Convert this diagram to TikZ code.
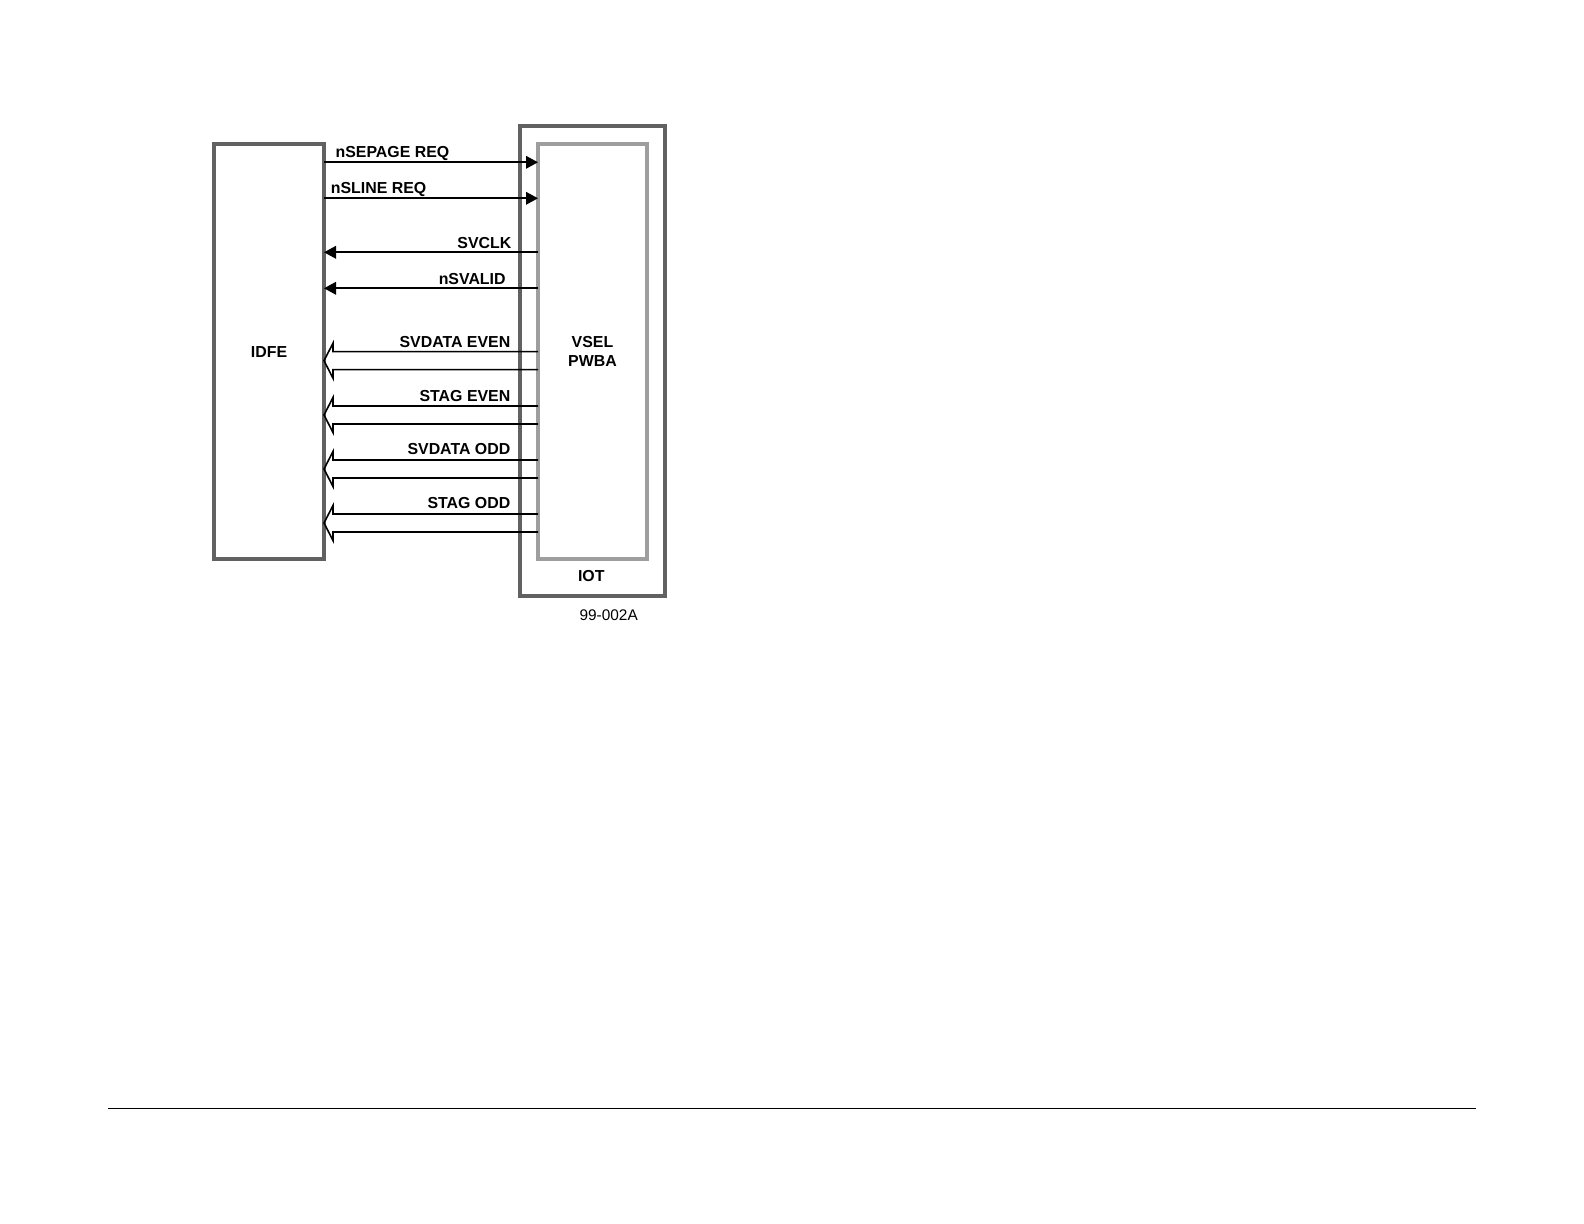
\documentclass[tikz,border=0pt]{standalone}
\usepackage{fontspec}
\setmainfont{Liberation Sans}
\usetikzlibrary{arrows.meta,calc}
\begin{document}
\begin{tikzpicture}[x=0.5pt,y=-0.5pt,
  darkbox/.style={draw=black!62,line width=2pt,outer sep=0pt,inner sep=0pt},
  lightbox/.style={draw=black!38,line width=1.8pt,outer sep=0pt,inner sep=0pt},
  sig/.style={font=\bfseries\fontsize{7.95}{9}\selectfont,inner sep=0pt},
  thinarrow/.style={draw=black,line width=0.8pt,-{Triangle[length=6pt,width=6.3pt]}},
  widearrow/.style={draw=black,line width=0.8pt,line join=miter}]
\useasboundingbox (0,0) rectangle (1584,1224);
% boxes
\node[darkbox,minimum width=72.5pt,minimum height=234.8pt] (iot) at (592.5,360.9) {};
\node[lightbox,minimum width=54.5pt,minimum height=207.5pt,align=center,font=\bfseries\fontsize{7.95}{9.15}\selectfont] (vsel) at (592.5,351.5) {VSEL\\PWBA};
\node[darkbox,minimum width=55pt,minimum height=207.6pt,font=\bfseries\fontsize{7.95}{9}\selectfont] (idfe) at (269,351.6) {IDFE};
\node[sig,anchor=base] (iotlbl) at (591.3,581.7) {IOT};
\node[font=\fontsize{7.7}{9}\selectfont,inner sep=0pt] (fig) at (608.7,615.5) {99-002A};
% signal rows
\coordinate (r1) at (0,162.3);
\coordinate (r2) at (0,198.3);
\coordinate (r3) at (0,252.3);
\coordinate (r4) at (0,288.3);
% thin arrows
\draw[thinarrow] (idfe.east |- r1) -- (vsel.west |- r1);
\draw[thinarrow] (idfe.east |- r2) -- (vsel.west |- r2);
\draw[thinarrow] (vsel.west |- r3) -- (idfe.east |- r3);
\draw[thinarrow] (vsel.west |- r4) -- (idfe.east |- r4);
\node[sig,anchor=base west] (l1) at (335.2,157.3) {nSEPAGE REQ};
\node[sig,anchor=base west] (l2) at (330.5,194) {nSLINE REQ};
\node[sig,anchor=base east] (l3) at (511.7,248.3) {SVCLK};
\node[sig,anchor=base east] (l4) at (506,285) {nSVALID};
% wide (bus) arrows
\foreach \t/\b/\c/\lab/\base [count=\i] in {351.7/369.7/360.7/SVDATA EVEN/347.3, 406/424/415/STAG EVEN/401.7, 460/478/469/SVDATA ODD/455, 514/532/523/STAG ODD/509}{
  \coordinate (t\i) at (0,\t);
  \coordinate (b\i) at (0,\b);
  \coordinate (c\i) at (0,\c);
  \draw[widearrow] (vsel.west |- t\i) -- ($(idfe.east |- t\i)+(9,0)$) -- ($(idfe.east |- t\i)+(9,-8.5)$)
     -- (idfe.east |- c\i) -- ($(idfe.east |- b\i)+(9,8.5)$) -- ($(idfe.east |- b\i)+(9,0)$) -- (vsel.west |- b\i);
  \node[sig,anchor=base east] (w\i) at (510.7,\base) {\lab};
}
% footer rule
\coordinate (fl) at (108,1108.3);
\coordinate (fr) at (1476,1108.3);
\draw[line width=0.7pt] (fl) -- (fr);
\end{tikzpicture}
\end{document}
